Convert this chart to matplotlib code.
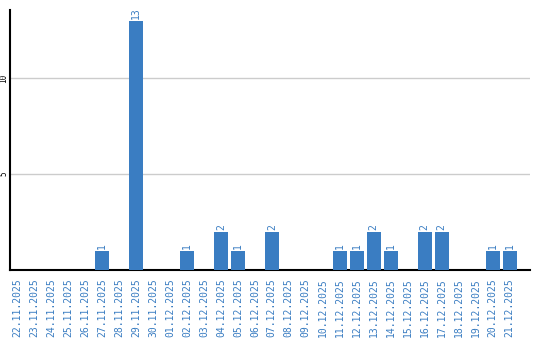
import matplotlib
matplotlib.use('Agg')
from matplotlib import pyplot as plt

dates = ['22.11.2025', '23.11.2025', '24.11.2025', '25.11.2025', '26.11.2025',
         '27.11.2025', '28.11.2025', '29.11.2025', '30.11.2025', '01.12.2025',
         '02.12.2025', '03.12.2025', '04.12.2025', '05.12.2025', '06.12.2025',
         '07.12.2025', '08.12.2025', '09.12.2025', '10.12.2025', '11.12.2025',
         '12.12.2025', '13.12.2025', '14.12.2025', '15.12.2025', '16.12.2025',
         '17.12.2025', '18.12.2025', '19.12.2025', '20.12.2025', '21.12.2025']
counts = [0, 0, 0, 0, 0, 1, 0, 13, 0, 0,
          1, 0, 2, 1, 0, 2, 0, 0, 0, 1,
          1, 2, 1, 0, 2, 2, 0, 0, 1, 1]

blue = '#3a7dc2'

fig = plt.figure(figsize=(5.4, 3.4), dpi=100)
ax = fig.add_axes([10 / 540, 70 / 340, 520 / 540, 260 / 340])

x = list(range(len(dates)))
ax.bar(x, counts, width=0.82, color=blue, zorder=3)

for i, c in zip(x, counts):
    if c > 0:
        ax.text(i, c + 0.1, str(c), rotation=90, ha='center', va='bottom',
                color=blue, fontsize=7, family='DejaVu Sans Mono')

ax.set_xlim(-0.42, 30.2)
ax.set_ylim(0, 13.55)
ax.set_xticks(x)
ax.set_xticklabels(dates, rotation=90, color=blue, fontsize=7, family='DejaVu Sans Mono')
ax.set_yticks([5, 10])
ax.set_yticklabels(['5', '10'], rotation=90, fontsize=5.5, family='DejaVu Sans Mono', va='center')
ax.tick_params(axis='x', length=0, pad=6)
ax.tick_params(axis='y', length=0, pad=1)
ax.yaxis.grid(True, color='#cccccc', linewidth=1, zorder=0)
for s in ['top', 'right']:
    ax.spines[s].set_visible(False)
ax.spines['left'].set_linewidth(1.5)
ax.spines['bottom'].set_linewidth(1.5)

plt.savefig('out.png', dpi=100)
